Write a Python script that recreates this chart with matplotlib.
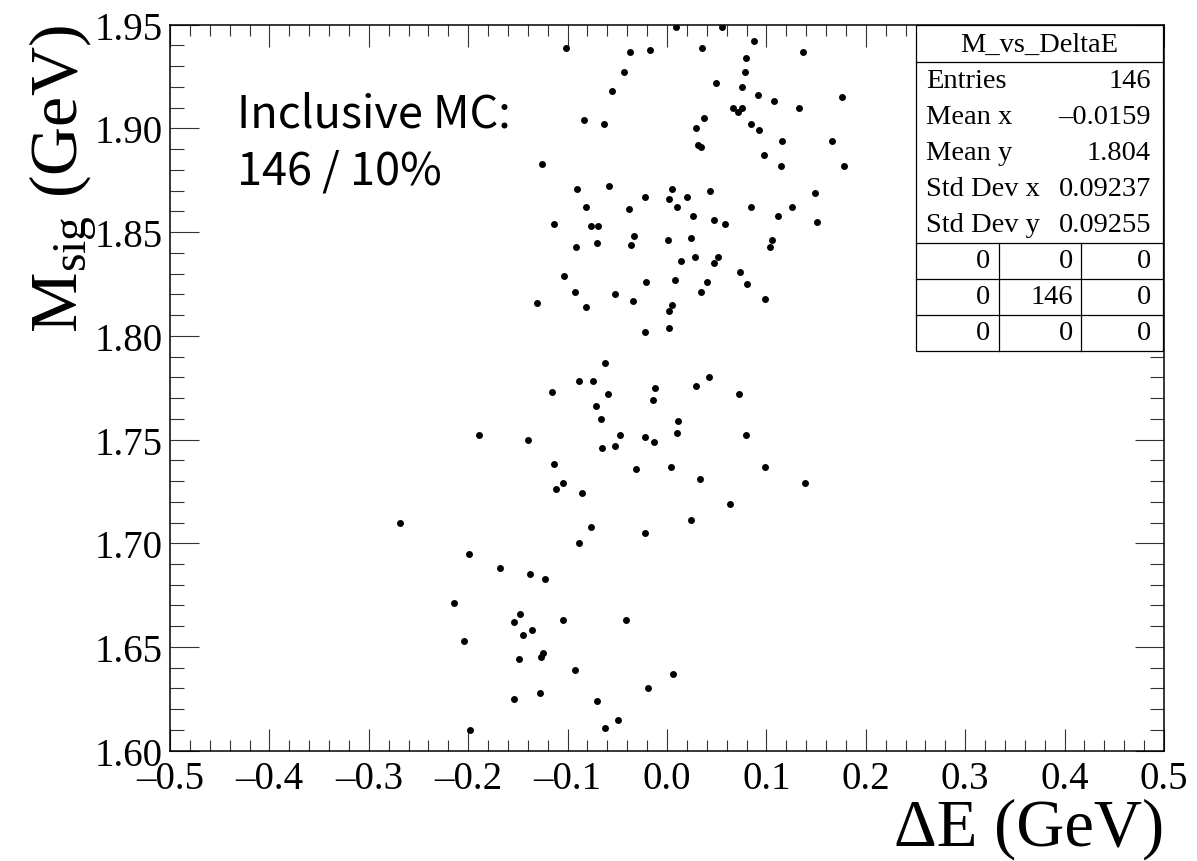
import matplotlib
matplotlib.use('Agg')
import matplotlib.pyplot as plt
from matplotlib.patches import Rectangle
from matplotlib.lines import Line2D
from matplotlib.ticker import MultipleLocator, FuncFormatter

plt.rcParams['font.family'] = ['Liberation Serif', 'DejaVu Serif']
plt.rcParams['mathtext.fontset'] = 'custom'
plt.rcParams['mathtext.rm'] = 'Liberation Serif'
plt.rcParams['mathtext.it'] = 'Liberation Serif:italic'

# Delta E (GeV) of each entry
delta_e = [
    -0.102, -0.037, -0.017, -0.043, -0.055, -0.084, -0.063, -0.126, -0.091, -0.058,
    -0.022, -0.081, -0.038, -0.114, -0.076, -0.069, -0.033, -0.092, -0.070, -0.036,
    0.009, 0.055, 0.035, 0.088, 0.137, 0.079, 0.078, 0.049, 0.075, 0.092,
    0.108, 0.176, 0.066, 0.075, 0.071, 0.133, 0.037, 0.029, 0.085, 0.093,
    0.116, 0.166, 0.031, 0.034, 0.098, 0.115, 0.178, 0.005, 0.002, 0.020,
    0.043, 0.010, 0.149, 0.085, 0.126, 0.026, 0.047, 0.058, 0.112, 0.151,
    0.001, 0.024, 0.106, 0.104, 0.014, 0.028, 0.047, 0.051, 0.073, -0.021,
    0.008, 0.040, 0.034, 0.080, 0.099, 0.005, 0.002, 0.002, -0.022, 0.042,
    -0.012, 0.029, 0.072, -0.014, 0.011, -0.022, -0.013, 0.010, 0.079, 0.004,
    0.099, 0.033, 0.139, -0.104, -0.093, -0.052, -0.034, -0.131, -0.081, -0.062,
    -0.089, -0.074, -0.116, -0.059, -0.071, -0.066, -0.189, -0.140, -0.047, -0.065,
    -0.052, -0.114, -0.031, -0.105, -0.112, -0.086, -0.269, -0.076, -0.022, -0.089,
    -0.199, -0.168, -0.138, -0.123, -0.214, -0.148, -0.154, -0.105, -0.041, -0.145,
    -0.136, -0.204, -0.125, -0.127, -0.149, -0.093, -0.019, -0.154, -0.128, -0.070,
    -0.049, -0.062, -0.198, 0.063, 0.024, 0.006,
]

# M_sig (GeV) of each entry
m_sig = [
    1.939, 1.937, 1.938, 1.927, 1.918, 1.904, 1.902, 1.883, 1.871, 1.872,
    1.867, 1.862, 1.861, 1.854, 1.853, 1.853, 1.848, 1.843, 1.845, 1.844,
    1.949, 1.949, 1.939, 1.942, 1.937, 1.934, 1.927, 1.922, 1.920, 1.916,
    1.913, 1.915, 1.910, 1.910, 1.908, 1.910, 1.905, 1.900, 1.902, 1.899,
    1.894, 1.894, 1.892, 1.891, 1.887, 1.882, 1.882, 1.871, 1.866, 1.867,
    1.870, 1.862, 1.869, 1.862, 1.862, 1.858, 1.856, 1.854, 1.858, 1.855,
    1.846, 1.847, 1.846, 1.843, 1.836, 1.838, 1.835, 1.838, 1.831, 1.826,
    1.827, 1.826, 1.821, 1.825, 1.818, 1.815, 1.812, 1.804, 1.802, 1.780,
    1.775, 1.776, 1.772, 1.769, 1.759, 1.751, 1.749, 1.753, 1.752, 1.737,
    1.737, 1.731, 1.729, 1.829, 1.821, 1.820, 1.817, 1.816, 1.814, 1.787,
    1.778, 1.778, 1.773, 1.772, 1.766, 1.760, 1.752, 1.750, 1.752, 1.746,
    1.747, 1.738, 1.736, 1.729, 1.726, 1.724, 1.710, 1.708, 1.705, 1.700,
    1.695, 1.688, 1.685, 1.683, 1.671, 1.666, 1.662, 1.663, 1.663, 1.656,
    1.658, 1.653, 1.647, 1.645, 1.644, 1.639, 1.630, 1.625, 1.628, 1.624,
    1.615, 1.611, 1.610, 1.719, 1.711, 1.637,
]

stat_labels = ['Entries', 'Mean x', 'Mean y', 'Std Dev x', 'Std Dev y']
stat_values = ['146', '\u20130.0159', '1.804', '0.09237', '0.09255']
overflow_grid = [['0', '0', '0'], ['0', '146', '0'], ['0', '0', '0']]
note_lines = ['Inclusive MC:', '146 / 10%']

W, H = 1197, 862
fig = plt.figure(figsize=(W / 100, H / 100), dpi=100)
ax = fig.add_axes([170 / W, 1 - 751.7 / H, 994 / W, 726 / H])

ax.plot(delta_e, m_sig, 'o', color='black', markersize=5.0, markeredgewidth=0)

ax.set_xlim(-0.5, 0.5)
ax.set_ylim(1.60, 1.95)
ax.xaxis.set_major_locator(MultipleLocator(0.1))
ax.xaxis.set_minor_locator(MultipleLocator(0.02))
ax.yaxis.set_major_locator(MultipleLocator(0.05))
ax.yaxis.set_minor_locator(MultipleLocator(0.01))
ax.xaxis.set_major_formatter(FuncFormatter(lambda v, p: ('%.1f' % v).replace('-', '\u2013')))
ax.yaxis.set_major_formatter(FuncFormatter(lambda v, p: '%.2f' % v))
ax.tick_params(which='both', direction='in', top=True, right=True,
               labelsize=28, width=0.8, color='#333333')
ax.tick_params(axis='x', which='major', length=15.5, pad=7)
ax.tick_params(axis='x', which='minor', length=7.8)
ax.tick_params(axis='y', which='major', length=21, pad=5)
ax.tick_params(axis='y', which='minor', length=10)
for sp in ax.spines.values():
    sp.set_linewidth(1.1)

ax.set_xlabel('\u0394E (GeV)', fontsize=48, loc='right')
ax.xaxis.set_label_coords(1.0, -0.064)
ax.set_ylabel(r'M$_{\mathrm{sig}}$ (GeV)', fontsize=49, loc='top')
ax.yaxis.set_label_coords(-0.071, 1.0)


def fx(x):
    return x / W


def fy(y):
    return 1 - y / H


for line, base in zip(note_lines, [127.7, 184.3]):
    fig.text(fx(237), fy(base), line, fontsize=32.5, color='black',
             family=['Noto Sans CJK SC', 'DejaVu Sans'], fontweight='light',
             va='baseline', ha='left')

# statistics box
bx0, bx1, by0, by1 = 916, 1163, 25.7, 352
fig.add_artist(Rectangle((fx(bx0), fy(by1)), fx(bx1) - fx(bx0), fy(by0) - fy(by1),
                         transform=fig.transFigure, facecolor='white',
                         edgecolor='black', linewidth=0.9, zorder=5))
for yy in [63, 244, 279.5, 315.5]:
    fig.add_artist(Line2D([fx(bx0), fx(bx1)], [fy(yy), fy(yy)],
                          transform=fig.transFigure, color='black', lw=0.9, zorder=6))
for xx in [998.5, 1081]:
    fig.add_artist(Line2D([fx(xx), fx(xx)], [fy(244), fy(by1)],
                          transform=fig.transFigure, color='black', lw=0.9, zorder=6))

fs = 20.5
fig.text(fx(1039.5), fy(45), 'M_vs_DeltaE', ha='center', va='center', fontsize=fs, zorder=7)
row_y = [81.3, 117.3, 153.3, 189.7, 225.7]
for lab, val, yy in zip(stat_labels, stat_values, row_y):
    fig.text(fx(926), fy(yy), lab, ha='left', va='center', fontsize=fs, zorder=7)
    fig.text(fx(1151), fy(yy), val, ha='right', va='center', fontsize=fs, zorder=7)
grid_y = [262, 297.5, 333.5]
grid_x = [990, 1073, 1151]
for r, yy in enumerate(grid_y):
    for c, xx in enumerate(grid_x):
        fig.text(fx(xx), fy(yy), overflow_grid[r][c], ha='right', va='center',
                 fontsize=fs, zorder=7)

fig.savefig('out.png', dpi=100)
plt.close(fig)
